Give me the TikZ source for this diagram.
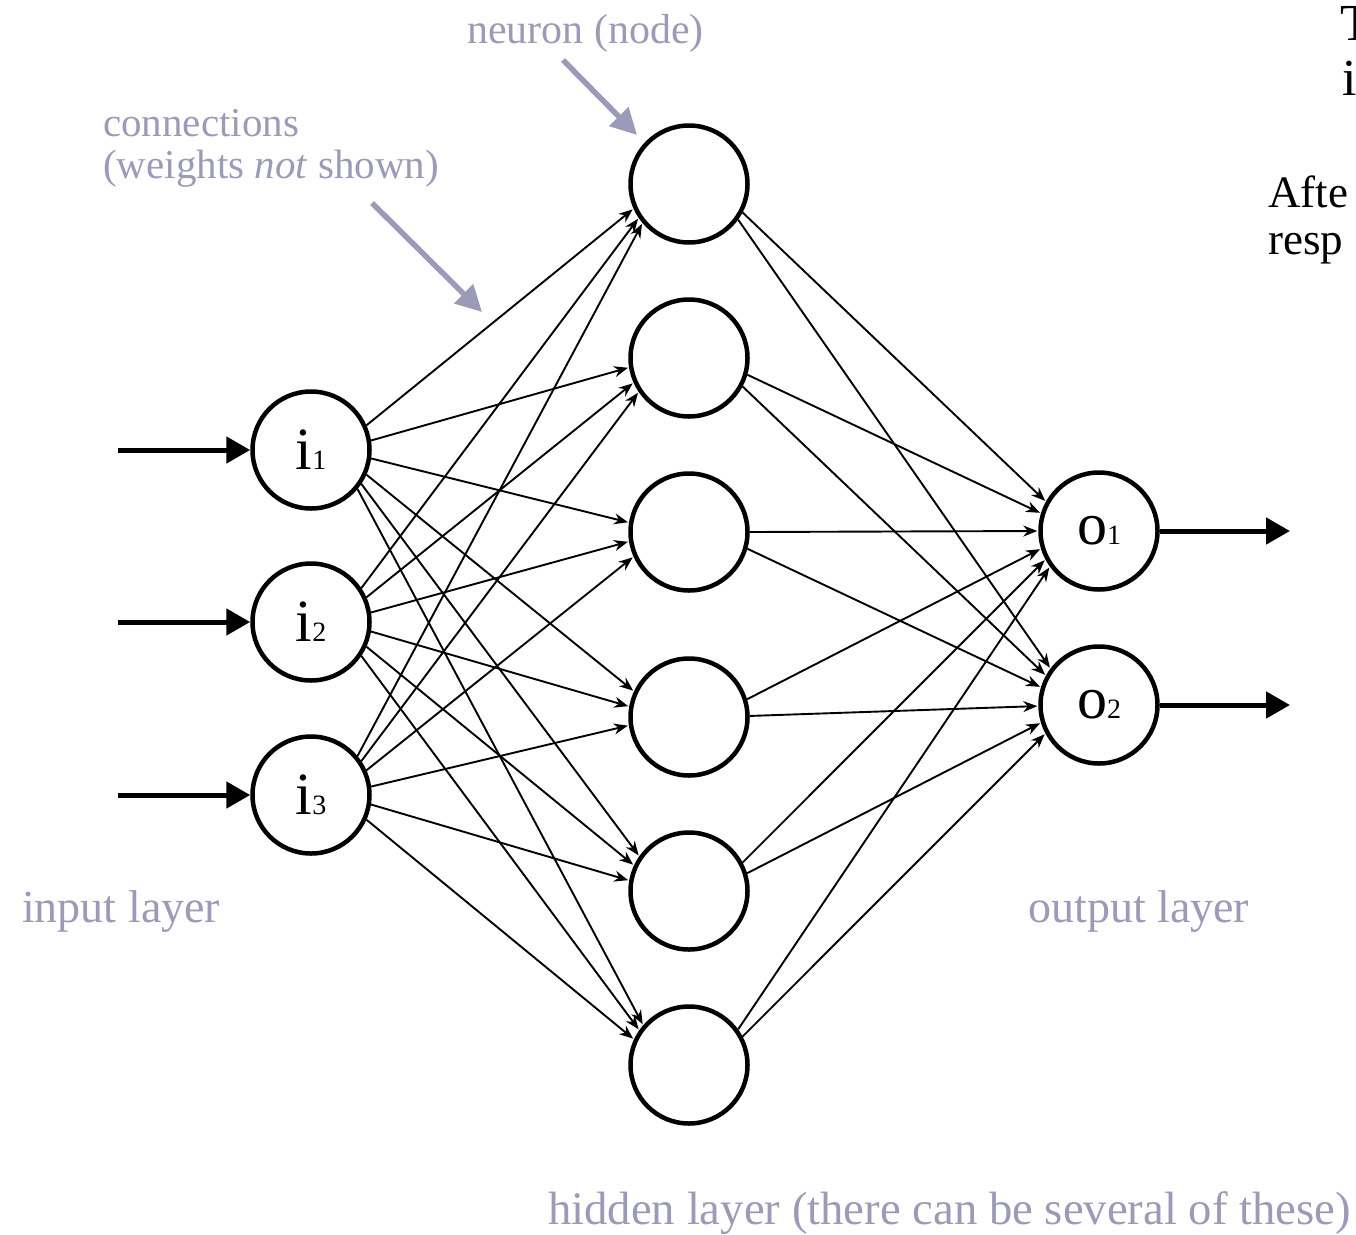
\documentclass[tikz,border=0pt]{standalone}
\usepackage{fontspec}
\setmainfont{Liberation Serif}
\usetikzlibrary{arrows.meta,calc}
\definecolor{labgray}{RGB}{155,155,184}
\newcommand\neurlab[2]{{\fontsize{60}{60}\selectfont #1}{\fontsize{28}{28}\selectfont #2}}
\begin{document}
\begin{tikzpicture}[x=1pt,y=-1pt,
  neuron/.style={circle,draw,line width=4.5pt,minimum size=117pt,inner sep=0pt},
  edge/.style={line width=1.9pt,-{Stealth[length=14pt,width=11pt]},shorten >=1pt},
  bigarrow/.style={line width=5pt,-{Triangle[length=24pt,width=26pt]}},
  grayarrow/.style={line width=5.5pt,draw=labgray,-{Triangle[length=26pt,width=26pt]}},
  graylab/.style={text=labgray,inner sep=0pt,anchor=base west},
  blacklab/.style={text=black,inner sep=0pt,anchor=base west}
]
\useasboundingbox (0,0) rectangle (1356,1234);
% input nodes
\node[neuron] (i1) at (311,450) {\neurlab{i}{1}};
\node[neuron] (i2) at (311,622) {\neurlab{i}{2}};
\node[neuron] (i3) at (311,795) {\neurlab{i}{3}};
% hidden nodes
\node[neuron] (h1) at (689,184) {};
\node[neuron] (h2) at (689,358) {};
\node[neuron] (h3) at (689,532) {};
\node[neuron] (h4) at (689,717) {};
\node[neuron] (h5) at (689,891) {};
\node[neuron] (h6) at (689,1065) {};
% output nodes
\node[neuron] (o1) at (1099,531) {\neurlab{o}{1}};
\node[neuron] (o2) at (1099,705) {\neurlab{o}{2}};
% connections
\foreach \s in {i1,i2,i3}
  \foreach \t in {h1,h2,h3,h4,h5,h6}
    \draw[edge] let \p1=(\s.center), \p2=(\t.center),
      \n1={atan2(\y2-\y1,\x2-\x1)}, \n2={0.7*\n1}, \n3={180+0.7*\n1}
      in (\s.\n2) -- (\t.\n3);
\foreach \s in {h1,h2,h3,h4,h5,h6}
  \foreach \t in {o1,o2}
    \draw[edge] let \p1=(\s.center), \p2=(\t.center),
      \n1={atan2(\y2-\y1,\x2-\x1)}, \n2={0.7*\n1}, \n3={180+0.7*\n1}
      in (\s.\n2) -- (\t.\n3);
% input / output arrows
\coordinate (in1) at (118,450);
\coordinate (in2) at (118,622);
\coordinate (in3) at (118,795);
\coordinate (out1) at (1290,531);
\coordinate (out2) at (1290,705);
\draw[bigarrow] (in1) -- (i1);
\draw[bigarrow] (in2) -- (i2);
\draw[bigarrow] (in3) -- (i3);
\draw[bigarrow] (o1) -- (out1);
\draw[bigarrow] (o2) -- (out2);
% labels
\node[graylab,font=\fontsize{42}{42}\selectfont] (lneuron) at (467,43) {neuron (node)};
\node[graylab,font=\fontsize{41}{41}\selectfont] (lconn1) at (103,136) {connections};
\node[graylab,font=\fontsize{41}{41}\selectfont] (lconn2) at (103,178) {(weights \textit{not} shown)};
\node[graylab,font=\fontsize{46}{46}\selectfont] (linput) at (22,922) {input layer};
\node[graylab,font=\fontsize{46}{46}\selectfont] (loutput) at (1028,922) {output layer};
\node[graylab,font=\fontsize{46.7}{46.7}\selectfont] (lhidden) at (548,1224) {hidden layer (there can be several of these)};
\coordinate (ga1s) at (563,60);
\coordinate (ga1e) at (637,135);
\coordinate (ga2s) at (372,203);
\coordinate (ga2e) at (482,312);
\draw[grayarrow] (ga1s) -- (ga1e);
\draw[grayarrow] (ga2s) -- (ga2e);
% cut-off text on the right
\node[blacklab,font=\fontsize{52}{52}\selectfont] (tT) at (1340,40) {T};
\node[blacklab,font=\fontsize{52}{52}\selectfont] (ti) at (1342,95) {i};
\node[blacklab,font=\fontsize{45}{45}\selectfont] (tafte) at (1268,207) {Afte};
\node[blacklab,font=\fontsize{45}{45}\selectfont] (tresp) at (1268,254) {resp};
\end{tikzpicture}
\end{document}
